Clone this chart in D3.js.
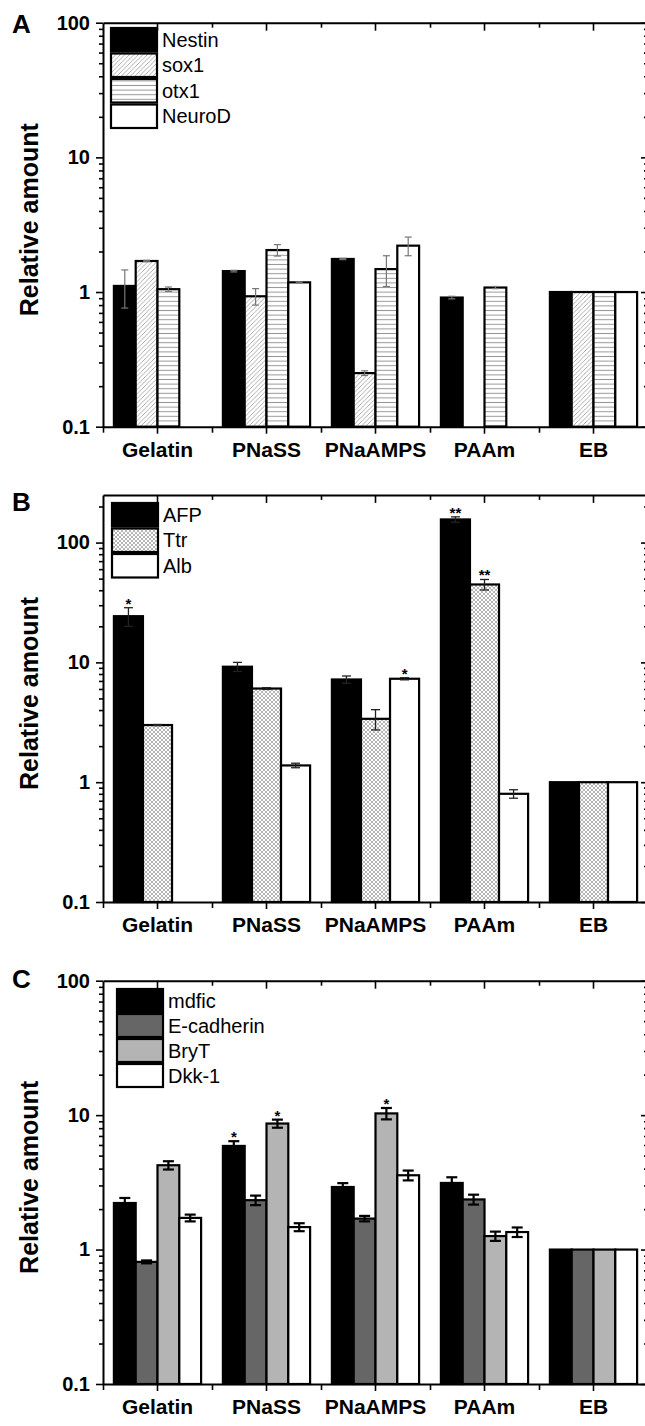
<!DOCTYPE html>
<html>
<head>
<meta charset="utf-8">
<script src="https://cdn.jsdelivr.net/npm/d3@7"></script>
<style>
  body { margin: 0; background: #fff; }
  svg { display: block; font-family: "Liberation Sans", Arial, sans-serif; }
</style>
</head>
<body>
<div id="chart"></div>
<script>
// categories and tick labels shared by all three panels
const categories = ['Gelatin', 'PNaSS', 'PNaAMPS', 'PAAm', 'EB'];
const yTicks = [0.1, 1, 10, 100];
const yTickLabels = ['0.1', '1', '10', '100'];

// panel A : neural markers (null = no bar)
const seriesA = ['Nestin', 'sox1', 'otx1', 'NeuroD'];
const valuesA = [
  [1.11, 1.43, 1.76, 0.91, 1],
  [1.70, 0.93, 0.25, null, 1],
  [1.05, 2.05, 1.48, 1.08, 1],
  [null, 1.18, 2.21, null, 1]
];
const errorsA = [
  [0.35, 0.02, 0.02, 0.02, 0],
  [0.02, 0.13, 0.01, null, 0],
  [0.04, 0.20, 0.38, 0.02, 0],
  [null, 0.01, 0.35, null, 0]
];

// panel B : endoderm markers
const seriesB = ['AFP', 'Ttr', 'Alb'];
const valuesB = [
  [24.3, 9.2, 7.2, 156, 1],
  [3.0, 6.05, 3.38, 44.7, 1],
  [null, 1.38, 7.3, 0.80, 1]
];
const errorsB = [
  [4.3, 0.8, 0.5, 8, 0],
  [0.03, 0.1, 0.65, 4.5, 0],
  [null, 0.06, 0.15, 0.065, 0]
];
const starsB = [
  ['*', '', '', '**', ''],
  ['', '', '', '**', ''],
  ['', '', '*', '', '']
];

// panel C : mesoderm markers
const seriesC = ['mdfic', 'E-cadherin', 'BryT', 'Dkk-1'];
const valuesC = [
  [2.22, 5.9, 2.92, 3.13, 1],
  [0.81, 2.33, 1.70, 2.36, 1],
  [4.24, 8.66, 10.3, 1.26, 1],
  [1.72, 1.47, 3.57, 1.35, 1]
];
const errorsC = [
  [0.2, 0.5, 0.2, 0.32, 0],
  [0.02, 0.19, 0.08, 0.2, 0],
  [0.3, 0.6, 1.0, 0.1, 0],
  [0.1, 0.1, 0.3, 0.11, 0]
];
const starsC = [
  ['', '*', '', '', ''],
  ['', '', '', '', ''],
  ['', '*', '*', '', ''],
  ['', '', '', '', '']
];

const W = 645, H = 1426;
const X0 = 103, X1 = 648;

const svg = d3.select('#chart').append('svg')
  .attr('width', W)
  .attr('height', H);
svg.append('rect').attr('width', W).attr('height', H).attr('fill', '#fff');

// hatch patterns
const defs = svg.append('defs');
const diag = defs.append('pattern').attr('id', 'diag')
  .attr('patternUnits', 'userSpaceOnUse').attr('width', 4.5).attr('height', 4.5);
diag.append('rect').attr('width', 4.5).attr('height', 4.5).attr('fill', '#fff');
diag.append('path').attr('d', 'M-1,1 l2,-2 M0,4.5 l4.5,-4.5 M3.5,5.5 l2,-2')
  .attr('stroke', '#9a9a9a').attr('stroke-width', 0.8);

const horiz = defs.append('pattern').attr('id', 'horiz')
  .attr('patternUnits', 'userSpaceOnUse').attr('width', 6).attr('height', 4.6);
horiz.append('rect').attr('width', 6).attr('height', 4.6).attr('fill', '#fff');
horiz.append('path').attr('d', 'M0,2.3 h6').attr('stroke', '#999').attr('stroke-width', 1);

const cross = defs.append('pattern').attr('id', 'cross')
  .attr('patternUnits', 'userSpaceOnUse').attr('width', 4).attr('height', 4);
cross.append('rect').attr('width', 4).attr('height', 4).attr('fill', '#a8a8a8');
[[0, 0], [4, 0], [0, 4], [4, 4], [2, 2]].forEach(p => {
  cross.append('circle').attr('cx', p[0]).attr('cy', p[1]).attr('r', 1.2).attr('fill', '#fff');
});

function drawPanel(cfg) {
  const g = svg.append('g');

  const x = d3.scaleBand().domain(categories).range([X0, X1]);
  const inner = x.bandwidth() * 0.8;
  const xs = d3.scaleBand().domain(cfg.series).range([0, inner]);
  const y = d3.scaleLog().domain([0.1, cfg.max]).range([cfg.bottom, cfg.top]);
  const xEdge = d3.scaleLinear().domain([0, categories.length]).range([X0, X1]);

  const minor = [];
  [0.1, 1, 10, 100].forEach(d => {
    for (let k = 2; k <= 9; k++) if (k * d < cfg.max) minor.push(k * d);
  });

  // bars
  cfg.series.forEach((s, si) => {
    const rows = categories.map((c, ci) => ({ c, v: cfg.values[si][ci], e: cfg.errors[si][ci],
      star: cfg.stars ? cfg.stars[si][ci] : '' })).filter(d => d.v != null);

    g.selectAll(null).data(rows).enter().append('rect')
      .attr('x', d => x(d.c) + x.bandwidth() * 0.1 + xs(s))
      .attr('y', d => y(d.v))
      .attr('width', xs.bandwidth())
      .attr('height', d => y(0.1) - y(d.v))
      .attr('fill', cfg.fills[si])
      .attr('stroke', '#000')
      .attr('stroke-width', 2.2);

    const eb = g.selectAll(null).data(rows.filter(d => d.e > 0)).enter().append('g')
      .attr('stroke', cfg.errColor).attr('stroke-width', cfg.errWidth);
    const cx = d => x(d.c) + x.bandwidth() * 0.1 + xs(s) + xs.bandwidth() / 2;
    eb.append('line')
      .attr('x1', cx).attr('x2', cx)
      .attr('y1', d => y(d.v + d.e)).attr('y2', d => y(Math.max(d.v - d.e, 0.101)));
    eb.append('line')
      .attr('x1', d => cx(d) - cfg.cap).attr('x2', d => cx(d) + cfg.cap)
      .attr('y1', d => y(d.v + d.e)).attr('y2', d => y(d.v + d.e));
    eb.append('line')
      .attr('x1', d => cx(d) - cfg.cap).attr('x2', d => cx(d) + cfg.cap)
      .attr('y1', d => y(d.v - d.e)).attr('y2', d => y(d.v - d.e));

    g.selectAll(null).data(rows.filter(d => d.star)).enter().append('text')
      .attr('x', cx)
      .attr('y', d => y(d.v + d.e) + 1)
      .attr('text-anchor', 'middle')
      .style('font-size', '15px')
      .style('font-weight', 'bold')
      .text(d => d.star);
  });

  // left axis
  const left = g.append('g').attr('transform', `translate(${X0},0)`)
    .call(d3.axisLeft(y).tickValues(yTicks).tickFormat((d, i) => yTickLabels[i])
      .tickSize(7).tickSizeOuter(0).tickPadding(6));
  g.append('g').attr('transform', `translate(${X0},0)`)
    .call(d3.axisLeft(y).tickValues(minor).tickFormat('').tickSize(4).tickSizeOuter(0))
    .select('.domain').remove();
  left.selectAll('text').style('font-size', '20px').style('font-weight', 'bold').attr('fill', '#000');

  // right axis, ticks pointing inward
  g.append('g').attr('transform', `translate(${X1},0)`)
    .call(d3.axisLeft(y).tickValues(yTicks).tickFormat('').tickSize(7).tickSizeOuter(0));
  g.append('g').attr('transform', `translate(${X1},0)`)
    .call(d3.axisLeft(y).tickValues(minor).tickFormat('').tickSize(4).tickSizeOuter(0))
    .select('.domain').remove();

  // top axis, ticks pointing down
  g.append('g').attr('transform', `translate(0,${cfg.top})`)
    .call(d3.axisBottom(x).tickFormat('').tickSize(8).tickSizeOuter(0));
  g.append('g').attr('transform', `translate(0,${cfg.top})`)
    .call(d3.axisBottom(xEdge).tickValues([1, 2, 3, 4, 5]).tickFormat('').tickSize(5).tickSizeOuter(0))
    .select('.domain').remove();

  // bottom axis
  const bottom = g.append('g').attr('transform', `translate(0,${cfg.bottom})`)
    .call(d3.axisBottom(x).tickSize(7).tickSizeOuter(0).tickPadding(8));
  g.append('g').attr('transform', `translate(0,${cfg.bottom})`)
    .call(d3.axisBottom(xEdge).tickValues([0, 1, 2, 3, 4, 5]).tickFormat('').tickSize(6).tickSizeOuter(0))
    .select('.domain').remove();
  bottom.selectAll('text').style('font-size', '21px').style('font-weight', 'bold').attr('fill', '#000');

  g.selectAll('.domain').attr('stroke', '#000').attr('stroke-width', 2);
  g.selectAll('.tick line').attr('stroke', '#000').attr('stroke-width', 1.6);
  g.selectAll('.tick text').style('font-family', '"Liberation Sans", Arial, sans-serif');

  // y label
  g.append('text')
    .attr('transform', `translate(38,${(cfg.top + cfg.bottom) / 2 - 5}) rotate(-90)`)
    .attr('text-anchor', 'middle')
    .style('font-size', '25px')
    .style('font-weight', 'bold')
    .text('Relative amount');

  // panel letter
  g.append('text')
    .attr('x', 12).attr('y', cfg.letterY)
    .style('font-size', '26px')
    .style('font-weight', 'bold')
    .text(cfg.letter);

  // legend
  const leg = g.append('g').attr('transform', `translate(${cfg.legX},${cfg.legY})`);
  cfg.series.forEach((s, i) => {
    leg.append('rect')
      .attr('x', 0).attr('y', i * cfg.legStep)
      .attr('width', 46).attr('height', cfg.legStep - 2)
      .attr('fill', cfg.fills[i])
      .attr('stroke', '#000').attr('stroke-width', 2.2);
    leg.append('text')
      .attr('x', 51).attr('y', i * cfg.legStep + cfg.legStep / 2 + 6)
      .style('font-size', '20px')
      .text(s);
  });
}

drawPanel({
  letter: 'A', letterY: 33,
  series: seriesA, values: valuesA, errors: errorsA, stars: null,
  fills: ['#000', 'url(#diag)', 'url(#horiz)', '#fff'],
  max: 100, top: 22.7, bottom: 426.7,
  errColor: '#777', errWidth: 1.2, cap: 3.5,
  legX: 111, legY: 28, legStep: 25.5
});

drawPanel({
  letter: 'B', letterY: 511,
  series: seriesB, values: valuesB, errors: errorsB, stars: starsB,
  fills: ['#000', 'url(#cross)', '#fff'],
  max: 250, top: 494.9, bottom: 902,
  errColor: '#222', errWidth: 1.3, cap: 4.5,
  legX: 112, legY: 503, legStep: 25.5
});

drawPanel({
  letter: 'C', letterY: 988,
  series: seriesC, values: valuesC, errors: errorsC, stars: starsC,
  fills: ['#000', '#666', '#b4b4b4', '#fff'],
  max: 100, top: 980.7, bottom: 1384,
  errColor: '#000', errWidth: 2.2, cap: 5.5,
  legX: 117, legY: 989, legStep: 25
});
</script>
</body>
</html>
